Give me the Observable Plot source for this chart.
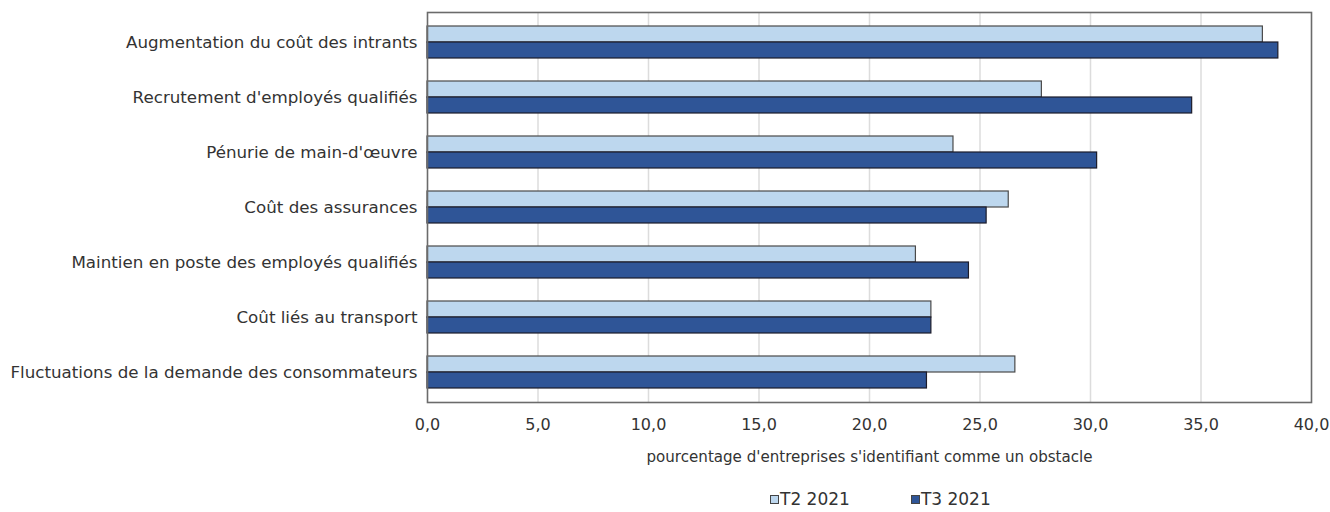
<!DOCTYPE html>
<html>
<head>
<meta charset="utf-8">
<script src="https://cdn.jsdelivr.net/npm/d3@7"></script>
<script src="https://cdn.jsdelivr.net/npm/@observablehq/plot@0.6"></script>
<style>
  body { margin: 0; background: #fff; font-family: "DejaVu Sans", sans-serif; color: #333; }
  #chart svg { display: block; }
  #legend { display: flex; gap: 61px; padding-left: 770px; padding-top: 8px; height: 26px; align-items: center; font-size: 17px; color: #333; }
  #legend .item { display: flex; align-items: center; }
  #legend .sw { width: 7px; height: 7px; border: 1.5px solid #444; margin-right: 1px; }
</style>
</head>
<body>
<div id="chart"></div>
<div id="legend"></div>
<script>
// Obstacles cited by businesses, share of businesses (%)
const categories = [
  "Augmentation du coût des intrants",
  "Recrutement d'employés qualifiés",
  "Pénurie de main-d'œuvre",
  "Coût des assurances",
  "Maintien en poste des employés qualifiés",
  "Coût liés au transport",
  "Fluctuations de la demande des consommateurs"
];
const seriesNames = ["T2 2021", "T3 2021"];
const valuesT2 = [37.8, 27.8, 23.8, 26.3, 22.1, 22.8, 26.6];
const valuesT3 = [38.5, 34.6, 30.3, 25.3, 24.5, 22.8, 22.6];
const xTicks = [0, 5, 10, 15, 20, 25, 30, 35, 40];
const axisTitle = "pourcentage d'entreprises s'identifiant comme un obstacle";
const seriesColors = ["#bdd7ee", "#2f5597"];
const seriesStrokes = ["#4a4a4a", "#1c1c2a"];

const rowsT2 = categories.map((c, i) => ({category: c, value: valuesT2[i]}));
const rowsT3 = categories.map((c, i) => ({category: c, value: valuesT3[i]}));

const fmt = d => d.toFixed(1).replace(".", ",");

const chart = Plot.plot({
  width: 1330,
  height: 478,
  marginLeft: 427,
  marginRight: 19,
  marginTop: 12,
  marginBottom: 76,
  style: {fontFamily: "DejaVu Sans, sans-serif", fontSize: "16px", color: "#333", background: "#fff"},
  x: {domain: [0, 40], ticks: xTicks, label: null},
  y: {domain: categories, paddingInner: 0.4256, paddingOuter: 0.2128, label: null},
  marks: [
    Plot.ruleX(xTicks.filter(d => d > 0 && d < 40), {stroke: "#dcdcdc", strokeWidth: 1.5}),
    Plot.barX(rowsT2, {y: "category", x: "value", fill: seriesColors[0], stroke: seriesStrokes[0], strokeWidth: 1.2, insetBottom: 16}),
    Plot.barX(rowsT3, {y: "category", x: "value", fill: seriesColors[1], stroke: seriesStrokes[1], strokeWidth: 1.2, insetTop: 16}),
    Plot.frame({stroke: "#6b6b6b", strokeWidth: 1.6}),
    Plot.axisY({tickSize: 0, tickPadding: 10, fontSize: 16.7, fill: "#333"}),
    Plot.axisX({ticks: xTicks, tickSize: 0, tickPadding: 16, tickFormat: fmt, fontSize: 16, fill: "#333"}),
    Plot.text([axisTitle], {frameAnchor: "bottom", dy: 59, fontSize: 15.1, fill: "#333"})
  ]
});
document.getElementById("chart").appendChild(chart);

const legend = d3.select("#legend");
seriesNames.forEach((name, i) => {
  const item = legend.append("div").attr("class", "item");
  item.append("div").attr("class", "sw").style("background", seriesColors[i]);
  item.append("span").text(name);
});
</script>
</body>
</html>
